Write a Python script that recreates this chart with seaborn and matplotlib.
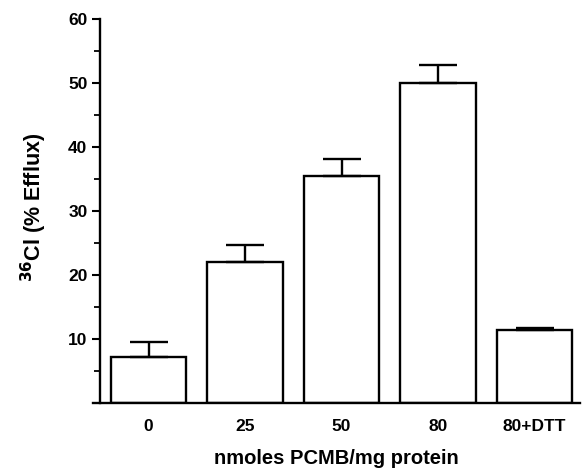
import numpy as np
import pandas as pd
import matplotlib
matplotlib.use("Agg")
import matplotlib.pyplot as plt
import seaborn as sns

categories = ["0", "25", "50", "80", "80+DTT"]
efflux = [7.2, 22.0, 35.5, 50.0, 11.5]
err_up = [2.3, 2.7, 2.6, 2.8, 0.3]

sns.set_style("ticks")
plt.rcParams['font.family'] = ['Liberation Sans', 'DejaVu Sans']
plt.rcParams['font.weight'] = 'bold'
plt.rcParams['text.color'] = 'black'
plt.rcParams['axes.labelcolor'] = 'black'
plt.rcParams['xtick.color'] = 'black'
plt.rcParams['ytick.color'] = 'black'

df = pd.DataFrame({"dose": categories, "efflux": efflux})

fig = plt.figure(figsize=(5.82, 4.69), dpi=100)
ax = fig.add_axes([93/582, 1 - 403.3/469, (580-93)/582, (403.3-19)/469])

sns.barplot(data=df, x="dose", y="efflux", color="white", edgecolor="black",
            linewidth=1.7, width=0.78, errorbar=None, ax=ax, saturation=1)

pos = np.arange(len(categories))
ax.errorbar(pos, efflux, yerr=[np.zeros(len(err_up)), err_up], fmt="none",
            ecolor="black", elinewidth=1.7, capsize=13.5, capthick=1.7, zorder=1)

ax.set_xlim(-0.575, 4.47)
ax.set_ylim(0, 60)
ax.set_yticks([10, 20, 30, 40, 50, 60])
ax.set_yticks([5, 15, 25, 35, 45, 55], minor=True)
ax.spines['left'].set_position(('axes', 7/487))
ax.spines['right'].set_visible(False)
ax.spines['top'].set_visible(False)
for s in ['left', 'bottom']:
    ax.spines[s].set_linewidth(1.7)
    ax.spines[s].set_color('black')
ax.tick_params(axis='y', which='major', length=6, width=1.5, direction='out',
               labelsize=12.5, pad=3, colors='black')
ax.tick_params(axis='y', which='minor', length=4, width=1.3, direction='out')
ax.tick_params(axis='x', length=0, labelsize=12.5, pad=11, colors='black')
for lab in ax.get_xticklabels() + ax.get_yticklabels():
    lab.set_fontweight('bold')

ax.set_xlabel("nmoles PCMB/mg protein", fontsize=14.5, fontweight='bold',
              labelpad=11, color='black')
ax.set_ylabel(r"$^{\mathbf{36}}$Cl (% Efflux)", fontsize=15.5, fontweight='bold',
              color='black')
ax.yaxis.set_label_coords(-0.09, 0.51)

fig.savefig("out.png", dpi=100, facecolor="white")
